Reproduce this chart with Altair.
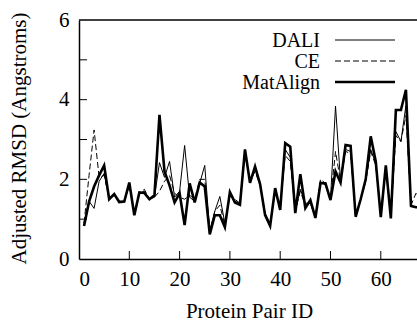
import altair as alt
import pandas as pd

ids = list(range(1, 69))

matalign = [0.83, 1.44, 1.82, 2.1, 2.35, 1.5, 1.63, 1.43, 1.44, 1.92,
            1.1, 1.67, 1.66, 1.5, 1.6, 3.62, 2.2, 1.85, 1.42, 1.65,
            0.85, 1.9, 1.42, 1.92, 1.82, 0.62, 1.1, 1.1, 0.8, 1.68,
            1.42, 1.36, 2.75, 1.91, 2.32, 1.88, 1.1, 0.83, 1.78, 1.23,
            2.91, 2.82, 1.15, 2.13, 1.28, 1.48, 1.03, 1.9, 1.9, 1.48,
            2.2, 1.92, 2.86, 2.84, 1.06, 1.5, 2.0, 3.08, 2.45, 1.05,
            2.35, 1.02, 3.74, 3.74, 4.25, 1.33, 1.3, 1.3]

dali = [0.9, 1.45, 1.27, 1.95, 2.15, 1.5, 1.6, 1.45, 1.45, 1.85,
        1.15, 1.65, 1.7, 1.5, 1.55, 2.42, 2.05, 2.45, 1.55, 1.7,
        2.85, 1.55, 1.45, 1.9, 2.35, 0.7, 1.2, 1.57, 0.9, 1.6,
        1.45, 1.4, 2.7, 1.95, 2.3, 1.9, 1.15, 0.9, 1.7, 1.3,
        2.75, 2.55, 1.2, 1.75, 1.4, 1.4, 1.05, 1.95, 1.85, 1.5,
        3.84, 1.95, 2.75, 2.7, 1.1, 1.5, 1.95, 2.75, 2.4, 1.1,
        2.3, 1.05, 3.2, 2.95, 3.85, 1.35, 1.3, 1.3]

ce = [0.9, 2.1, 3.24, 2.05, 2.1, 1.5, 1.6, 1.45, 1.45, 1.85,
      1.15, 1.65, 1.75, 1.5, 1.55, 1.7, 1.95, 2.1, 1.65, 1.55,
      1.5, 1.6, 1.5, 2.0, 2.0, 0.7, 1.2, 1.35, 0.85, 1.6,
      1.5, 1.4, 2.65, 1.95, 2.2, 1.85, 1.1, 0.9, 1.7, 1.3,
      2.6, 2.45, 1.2, 1.7, 1.35, 1.4, 1.05, 2.0, 1.9, 1.5,
      2.7, 1.95, 2.7, 2.65, 1.1, 1.5, 1.95, 2.7, 2.35, 1.1,
      2.3, 1.05, 3.1, 2.95, 3.6, 1.35, 1.65, 1.4]

x_tick_values = [0, 10, 20, 30, 40, 50, 60]
y_tick_values = [0, 1, 2, 3, 4, 5, 6]
x_inner_ticks = [10, 20, 30, 40, 50, 60]
y_inner_ticks = [1, 2, 3, 4, 5]
series_names = ["DALI", "CE", "MatAlign"]

FONT = "'Liberation Serif', 'Times New Roman', Times, serif"
W, H = 338, 239
XMAX = 67.2

df = pd.DataFrame({"id": ids, "DALI": dali, "CE": ce, "MatAlign": matalign})

xscale = alt.Scale(domain=[0, XMAX], nice=False, zero=False)
yscale = alt.Scale(domain=[0, 6], nice=False)

xenc = alt.X("id:Q", scale=xscale,
             axis=alt.Axis(values=x_tick_values, title="Protein Pair ID",
                           ticks=False, grid=False, labelPadding=9,
                           domainColor="black", domainWidth=1.5,
                           labelFont=FONT, titleFont=FONT, labelFontSize=21, titleFontSize=21,
                           labelColor="black", titleColor="black", titleFontWeight="normal",
                           titleX=170, titleY=58, titleBaseline="alphabetic"))

def series_layer(name, width, dash=None):
    mark_args = dict(color="black", strokeWidth=width, clip=True)
    if dash:
        mark_args["strokeDash"] = dash
    return alt.Chart(df).mark_line(**mark_args).encode(
        x=xenc,
        y=alt.Y(f"{name}:Q", scale=yscale,
                axis=alt.Axis(values=y_tick_values, title="Adjusted RMSD (Angstroms)",
                              ticks=False, grid=False, labelPadding=10,
                              domainColor="black", domainWidth=1.5,
                              labelFont=FONT, titleFont=FONT, labelFontSize=21, titleFontSize=21,
                              labelColor="black", titleColor="black", titleFontWeight="normal",
                              titleX=-54, titleY=118, titleBaseline="alphabetic",
                              titleAngle=270)),
    )

l_dali = series_layer("DALI", 1)
l_ce = series_layer("CE", 1, [6, 3])
l_mat = series_layer("MatAlign", 2.6)

xt = alt.Chart(pd.DataFrame({"t": x_inner_ticks})).mark_rule(color="black", strokeWidth=1).encode(
    x=alt.X("t:Q", scale=xscale), y=alt.value(H), y2=alt.value(H - 8))
yt = alt.Chart(pd.DataFrame({"t": y_inner_ticks})).mark_rule(color="black", strokeWidth=1).encode(
    y=alt.Y("t:Q", scale=yscale), x=alt.value(0), x2=alt.value(8))
top = alt.Chart(pd.DataFrame({"a": [0]})).mark_rule(color="black", strokeWidth=1.5).encode(
    x=alt.value(0), x2=alt.value(W), y=alt.value(0))

leg_layers = []
leg_y = [20, 41, 62]
leg_dash = [None, [6, 3], None]
leg_w = [1, 1, 2.6]
for name, yy, dsh, w in zip(series_names, leg_y, leg_dash, leg_w):
    leg_layers.append(alt.Chart(pd.DataFrame({"a": [0]})).mark_text(
        font=FONT, fontSize=20, align="right", baseline="middle", color="black", dy=1).encode(
        x=alt.value(241), y=alt.value(yy), text=alt.value(name)))
    rargs = dict(color="black", strokeWidth=w)
    if dsh:
        rargs["strokeDash"] = dsh
    leg_layers.append(alt.Chart(pd.DataFrame({"a": [0]})).mark_rule(**rargs).encode(
        x=alt.value(256), x2=alt.value(316), y=alt.value(yy)))

chart = alt.layer(l_dali, l_ce, l_mat, xt, yt, top, *leg_layers).properties(
    width=W, height=H,
    background="white",
    autosize=alt.AutoSizeParams(type="none"),
    padding={"left": 79, "top": 20, "right": 0, "bottom": 62},
).configure_view(stroke=None)

chart.save("out.html", embed_options={"renderer": "svg", "actions": False})
